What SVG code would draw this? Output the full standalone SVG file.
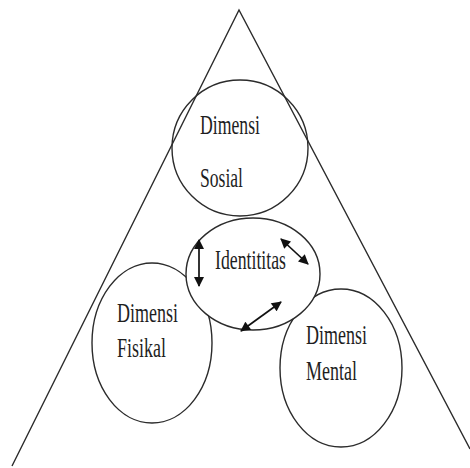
<svg xmlns="http://www.w3.org/2000/svg" width="470" height="468" viewBox="0 0 470 468">
<style>
.sh{fill:none;stroke:#2b2b2b;stroke-width:1.4}
.t{font-family:"Liberation Serif","Times New Roman",serif;font-size:28px;fill:#1e1e1e}
.c{stroke:#111;stroke-width:1.7;fill:none}
</style>
<defs>
<marker id="ah" viewBox="0 0 10 10" refX="9" refY="5" markerWidth="11" markerHeight="10" markerUnits="userSpaceOnUse" orient="auto-start-reverse">
<path d="M0,0 L10,5 L0,10 Z" fill="#111"/>
</marker>
</defs>
<rect width="470" height="468" fill="#fff"/>
<g id="triangle">
<polyline class="sh" points="12,466 239,10 470,449"/>
</g>
<g id="sosial">
<ellipse class="sh" cx="240" cy="148" rx="68" ry="68"/>
<text class="t" x="200" y="134" textLength="60" lengthAdjust="spacingAndGlyphs">Dimensi</text>
<text class="t" x="200" y="187" textLength="43" lengthAdjust="spacingAndGlyphs">Sosial</text>
</g>
<g id="fisikal">
<ellipse class="sh" cx="152" cy="343" rx="60" ry="80"/>
<text class="t" x="117" y="322" textLength="61" lengthAdjust="spacingAndGlyphs">Dimensi</text>
<text class="t" x="117" y="357" textLength="49" lengthAdjust="spacingAndGlyphs">Fisikal</text>
</g>
<g id="mental">
<ellipse class="sh" cx="341" cy="368" rx="61" ry="79"/>
<text class="t" x="306" y="344" textLength="61" lengthAdjust="spacingAndGlyphs">Dimensi</text>
<text class="t" x="306" y="380" textLength="51" lengthAdjust="spacingAndGlyphs">Mental</text>
</g>
<g id="identitas">
<ellipse class="sh" cx="253" cy="274" rx="67" ry="56" style="fill:#fff"/>
<text class="t" x="215" y="269" textLength="71" lengthAdjust="spacingAndGlyphs">Identititas</text>
</g>
<g id="connectors">
<line class="c" x1="199" y1="240" x2="199" y2="286" marker-start="url(#ah)" marker-end="url(#ah)"/>
<line class="c" x1="281" y1="239" x2="308" y2="264" marker-start="url(#ah)" marker-end="url(#ah)"/>
<line class="c" x1="241" y1="331" x2="281" y2="302" marker-start="url(#ah)" marker-end="url(#ah)"/>
</g>
</svg>
